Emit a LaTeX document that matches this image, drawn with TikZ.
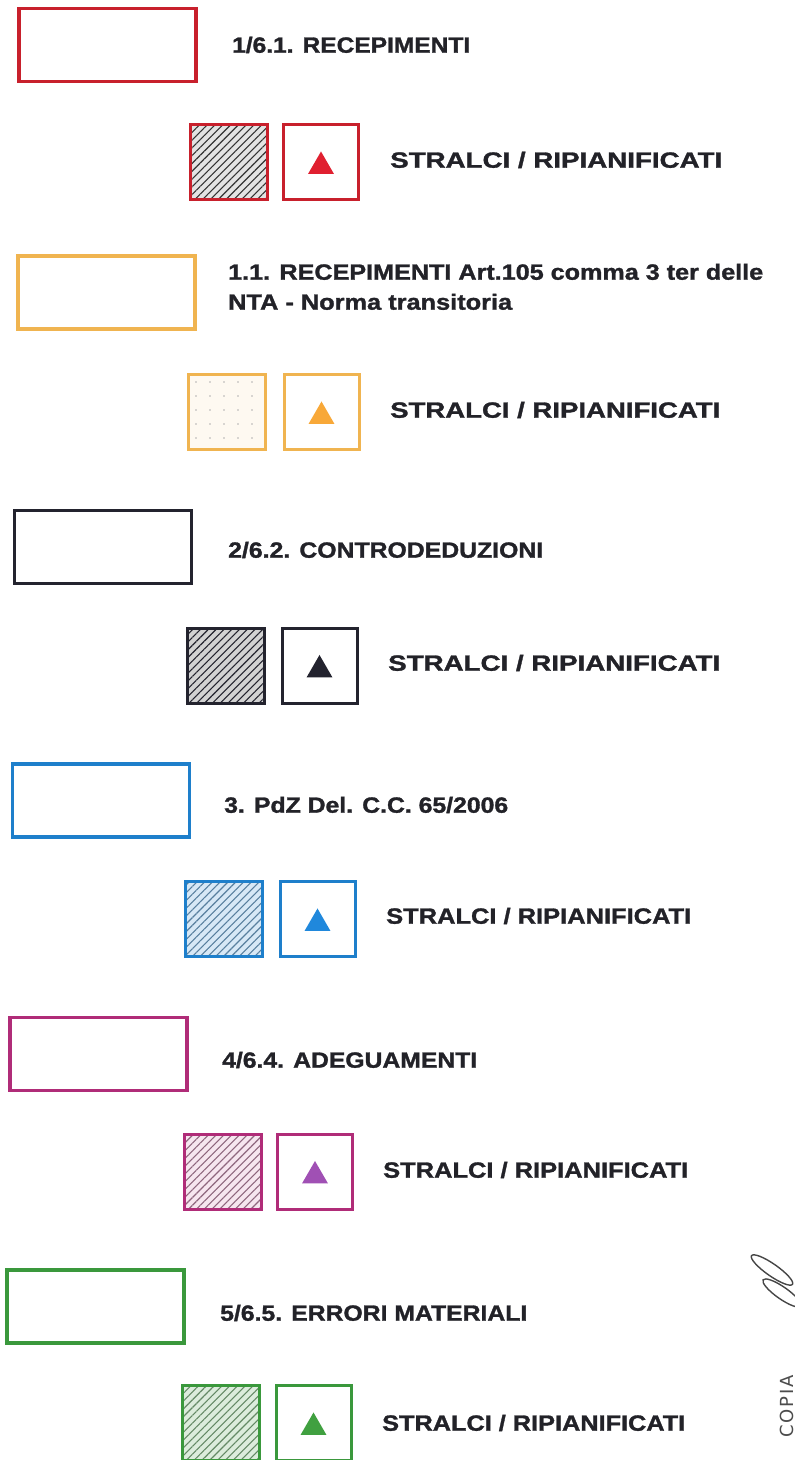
\documentclass[tikz,border=0pt]{standalone}
\usepackage{fontspec}
\setmainfont{Liberation Sans}[BoldFeatures={FakeBold=1.3}]
\newfontfamily\stampfont[LetterSpace=10]{DejaVu Sans}
\usepackage{graphicx}
\usetikzlibrary{patterns.meta,shapes.geometric}
\definecolor{cred}{HTML}{C8202C}
\definecolor{credtri}{HTML}{E02030}
\definecolor{cyel}{HTML}{F0B450}
\definecolor{cyeltri}{HTML}{F8A838}
\definecolor{cdark}{HTML}{23232E}
\definecolor{cblue}{HTML}{1E7FCB}
\definecolor{cbluetri}{HTML}{2088DC}
\definecolor{cmag}{HTML}{B02C78}
\definecolor{cmagtri}{HTML}{A050B4}
\definecolor{cgreen}{HTML}{3A983C}
\definecolor{cgreentri}{HTML}{40A040}
\definecolor{txt}{HTML}{222228}
\newcommand\fitw[2]{\resizebox{#1}{\height}{#2}}
\tikzset{
  bigbox/.style={draw=#1, line width=3.2pt, minimum width=177pt, minimum height=73pt, inner sep=0pt},
  hatchbox/.style n args={3}{draw=#1, line width=3pt, minimum width=77pt, minimum height=75pt, inner sep=0pt,
    preaction={fill=#2}, pattern={Lines[angle=45,distance=5.5pt,line width=1.1pt]}, pattern color=#3},
  dotbox/.style n args={3}{draw=#1, line width=3pt, minimum width=77pt, minimum height=75pt, inner sep=0pt,
    preaction={fill=#2}, pattern={Dots[distance=14pt,radius=0.8pt]}, pattern color=#3},
  tribox/.style={draw=#1, line width=3pt, minimum width=75pt, minimum height=75pt, inner sep=0pt},
  tri/.style={regular polygon, regular polygon sides=3, minimum size=30pt, inner sep=0pt, fill=#1, draw=none, yshift=-4pt},
  lbl/.style={anchor=base west, inner sep=0pt, text=txt, font=\fontsize{22}{24}\selectfont\bfseries},
  sig/.style={draw=gray!55!black, line width=1.4pt}
}
\begin{document}
\begin{tikzpicture}[x=1pt,y=1pt]
\fill[white] (0,0) rectangle (795,1460);
\useasboundingbox (0,0) rectangle (795,1460);

% Row 1 - red
\node[bigbox=cred] (r1) at (107.5,1415) {};
\node[lbl] (l1) at (232,1407.3) {\fitw{238pt}{1/6.1. RECEPIMENTI}};
\node[hatchbox={cred}{gray!22}{gray!40!black}] (h1) at (228.5,1297.5) {};
\node[tribox=cred] (s1) at (321,1297.5) {};
\node[tri=credtri] (t1) at (s1.center) {};
\node[lbl] (x1) at (390,1292.3) {\fitw{332pt}{STRALCI / RIPIANIFICATI}};

% Row 2 - yellow
\node[bigbox=cyel] (r2) at (106.5,1167.5) {};
\node[lbl] (l2a) at (228,1180.3) {\fitw{535pt}{1.1. RECEPIMENTI Art.105 comma 3 ter delle}};
\node[lbl] (l2b) at (228,1150.3) {\fitw{284pt}{NTA - Norma transitoria}};
\node[dotbox={cyel}{cyel!8}{gray!60}] (h2) at (227,1047.5) {};
\node[tribox=cyel] (s2) at (321.5,1047.5) {};
\node[tri=cyeltri] (t2) at (s2.center) {};
\node[lbl] (x2) at (390,1042.3) {\fitw{330pt}{STRALCI / RIPIANIFICATI}};

% Row 3 - dark
\node[bigbox=cdark] (r3) at (103,913) {};
\node[lbl] (l3) at (228,902.3) {\fitw{315pt}{2/6.2. CONTRODEDUZIONI}};
\node[hatchbox={cdark}{gray!35}{cdark}] (h3) at (226,794) {};
\node[tribox=cdark] (s3) at (319.5,794) {};
\node[tri=cdark] (t3) at (s3.center) {};
\node[lbl] (x3) at (388,789.3) {\fitw{332pt}{STRALCI / RIPIANIFICATI}};

% Row 4 - blue
\node[bigbox=cblue] (r4) at (101,659.5) {};
\node[lbl] (l4) at (224,647.3) {\fitw{284pt}{3. PdZ Del. C.C. 65/2006}};
\node[hatchbox={cblue}{cblue!18}{gray!60!cblue}] (h4) at (224,540.5) {};
\node[tribox=cblue] (s4) at (317.5,540.5) {};
\node[tri=cbluetri] (t4) at (s4.center) {};
\node[lbl] (x4) at (386,536.3) {\fitw{305pt}{STRALCI / RIPIANIFICATI}};

% Row 5 - magenta
\node[bigbox=cmag] (r5) at (98.5,406) {};
\node[lbl] (l5) at (222,392.3) {\fitw{255pt}{4/6.4. ADEGUAMENTI}};
\node[hatchbox={cmag}{cmag!12}{gray!70!cmag}] (h5) at (222.5,288) {};
\node[tribox=cmag] (s5) at (315,288) {};
\node[tri=cmagtri] (t5) at (s5.center) {};
\node[lbl] (x5) at (383,282.3) {\fitw{305pt}{STRALCI / RIPIANIFICATI}};

% Row 6 - green
\node[bigbox=cgreen] (r6) at (95.5,153.5) {};
\node[lbl] (l6) at (220,139.3) {\fitw{307pt}{5/6.5. ERRORI MATERIALI}};
\node[hatchbox={cgreen}{cgreen!18}{gray!60!cgreen}] (h6) at (220.5,36.5) {};
\node[tribox=cgreen] (s6) at (313.5,36.5) {};
\node[tri=cgreentri] (t6) at (s6.center) {};
\node[lbl] (x6) at (382,29.3) {\fitw{303pt}{STRALCI / RIPIANIFICATI}};

% stamp and signature
\node[rotate=90, anchor=base west, inner sep=0pt, text=gray!60!black, font=\stampfont\fontsize{18}{18}\selectfont] (stamp) at (793,22) {COPIA};
\draw[sig, rotate around={-35:(772,190)}] (772,190) ellipse (25 and 6);
\draw[sig, rotate around={-35:(782,167)}] (782,167) ellipse (23 and 6);
\end{tikzpicture}
\end{document}
